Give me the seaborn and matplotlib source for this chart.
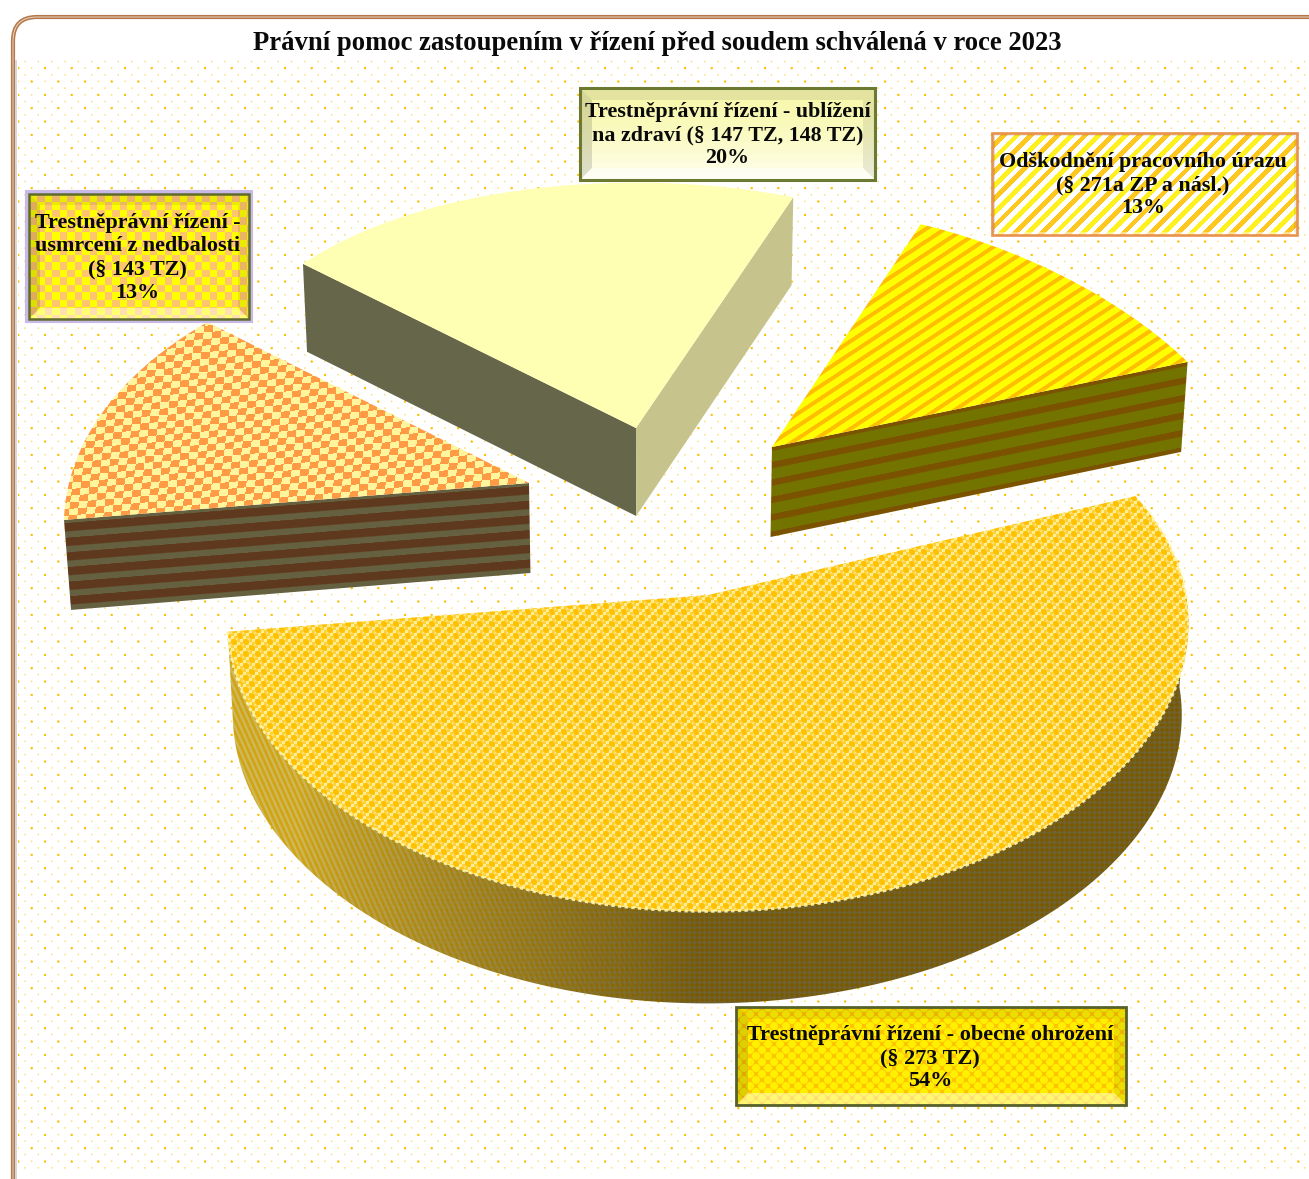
import numpy as np
import matplotlib
matplotlib.use("Agg")
import matplotlib.pyplot as plt
from matplotlib.patches import Polygon, Rectangle, FancyBboxPatch
import seaborn as sns

# ---- data
title = "Právní pomoc zastoupením v řízení před soudem schválená v roce 2023"
big_label = "Trestněprávní řízení - obecné ohrožení\n(§ 273 TZ)\n54%"
yellow_label = "Odškodnění pracovního úrazu\n(§ 271a ZP a násl.)\n13%"
cream_label = "Trestněprávní řízení - ublížení\nna zdraví (§ 147 TZ, 148 TZ)\n20%"
orange_label = "Trestněprávní řízení -\nusmrcení z nedbalosti\n(§ 143 TZ)\n13%"
categories = ["obecné ohrožení", "pracovní úraz", "ublížení na zdraví", "usmrcení z nedbalosti"]
shares = [54, 13, 20, 13]

sns.set_theme(style="white")
plt.rcParams["font.family"] = ["Liberation Serif", "DejaVu Serif"]

W, H = 1309, 1179
fig = plt.figure(figsize=(W / 100, H / 100), dpi=100, facecolor="white")
ax = fig.add_axes([0, 0, 1, 1])
ax.set_axis_off()

xx, yy = np.meshgrid(np.arange(W) + .5, np.arange(H) + .5)


def rgb(c):
    return np.array(matplotlib.colors.to_rgb(c))


def two(mask, a, b):
    """Blend colours a/b by mask (0..1) into an image."""
    m = np.clip(mask, 0, 1)[..., None]
    return rgb(a) * (1 - m) + rgb(b) * m


def stripes(u, period, duty):
    f = (u % period) / period
    edge = 1.2 / period
    return np.clip((duty - f) / edge + .5, 0, 1) * np.clip(f / edge + .5, 0, 1)


def checker(u, v):
    return (np.floor(u) + np.floor(v)) % 2


def dots(px, py, period, rad):
    a = (px % period) - period / 2
    b = (py % period) - period / 2
    a2 = ((px + period / 2) % period) - period / 2
    b2 = ((py + period / 2) % period) - period / 2
    d = np.minimum(np.hypot(a, b), np.hypot(a2, b2))
    return np.clip(rad + .5 - d, 0, 1)


def paint(img, verts, z):
    im = ax.imshow(img, extent=(0, W, H, 0), interpolation="nearest", zorder=z, aspect="auto")
    im.set_clip_path(Polygon(verts, closed=True, transform=ax.transData))
    return im


def poly(verts, color, z, **kw):
    ax.add_patch(Polygon(verts, closed=True, facecolor=color, edgecolor="none", zorder=z, **kw))


# ---- page frame and dotted background
frame = FancyBboxPatch((13, 17), W + 60, H + 60, boxstyle="round,pad=0,rounding_size=24",
                       facecolor="white", edgecolor="#B5784A", lw=3.0, zorder=1)
ax.add_patch(frame)
ax.add_patch(FancyBboxPatch((13, 17), W + 60, H + 60, boxstyle="round,pad=0,rounding_size=24",
                            facecolor="none", edgecolor="#EBD8C4", lw=.7, zorder=1.1))
ax.add_patch(Rectangle((14.5, 60), 2.5, H, facecolor="#D8D8D8", edgecolor="none", zorder=1.2))

strong = dots(xx - 5, yy - 1.5, 26.67, 1.1)
faint = dots(xx - 5 - 6.67, yy - 1.5 - 6.67, 13.33, .75)
rgba = np.zeros((H, W, 4))
rgba[..., :3] = rgb("#FFC000")
rgba[..., 3] = np.clip(strong + .6 * faint, 0, 1)
rgba[:60, :, 3] = 0
rgba[:, :18, 3] = 0
rgba[1174:, :, 3] = 0
ax.imshow(rgba, extent=(0, W, H, 0), interpolation="nearest", zorder=1.5, aspect="auto")

# ---- exploded 3-D pie: angles come from the shares
start_angle = 187.4
bounds = start_angle + np.cumsum([0] + [s * 3.6 for s in shares])


def rim(i, t, depth=0.0):
    """Screen position of the point at angle t (deg) of slice i."""
    ax0, ay0, R, r, p, q = geom[i]
    th = np.radians(t)
    c, s = np.cos(th), np.sin(th)
    x = ax0 + R * c * (1 - p * s)
    y = ay0 - r * s * (1 - q * s)
    return drop(x, y, depth)


def drop(x, y, depth):
    return x + (650 - x) * .012 * (depth / 90), y + depth


geom = [
    (708, 595, 478, 280, .10, .13),
    (772, 447, 474, 222.5, .15, -.081),
    (636, 428, 431, 282, 0, .13),
    (529, 483, 460, 281, .15, .155),
]
zorders = [30, 20, 10, 15]
depths = [92, 90, 88, 90]


def top_face(i):
    ts = np.linspace(bounds[i], bounds[i + 1], 200)
    ax0, ay0 = geom[i][:2]
    x, y = rim(i, ts)
    return np.vstack([[ax0, ay0], np.column_stack([x, y])])


def radial_face(i, t):
    ax0, ay0 = geom[i][:2]
    d = depths[i]
    ox, oy = rim(i, t)
    ox2, oy2 = rim(i, t, d)
    ax2, ay2 = drop(ax0, ay0, d)
    return [(ax0, ay0), (ox, oy), (ox2, oy2), (ax2, ay2)]


# slice 2: cream
z = zorders[2]
poly(radial_face(2, bounds[3]), "#66664A", z)
poly(radial_face(2, bounds[2]), "#C6C48C", z + .1)
poly(top_face(2), "#FFFFB3", z + .2)

# slice 3: orange checks with striped side
z = zorders[3]
u = (xx + .12 * yy) / 8.7
v = (yy + .085 * xx) / 6.6
paint(two(checker(u, v), "#FF9A45", "#FFF59C"), top_face(3), z + .2)
paint(two(stripes(yy + .08 * xx - 13.7, 14.7, .58), "#65603F", "#5F391E"), radial_face(3, bounds[4]), z)

# slice 1: yellow stripes with striped side
z = zorders[1]
paint(two(stripes(yy + .66 * xx, 12.5, .4), "#FFFF00", "#FFBE00"), top_face(1), z + .2)
paint(two(stripes(yy + .205 * xx - 11, 17.4, .38), "#737300", "#7A5200"), radial_face(1, bounds[1]), z)

# slice 0: large slice
z = zorders[0]
ts = np.linspace(bounds[0], 360, 300)
xt, yt = rim(0, ts)
xb, yb = rim(0, ts, depths[0])
side = np.vstack([np.column_stack([xt, yt]), np.column_stack([xb, yb])[::-1]])
weave = stripes(xx * 1.0 - yy * .45, 5.5, .5)
side_light = two(weave, "#D2A414", "#CDB85A")
side_dark = two(checker((xx + yy) / 5, (xx - yy) / 5), "#7A5A00", "#6F6130")
fade = np.clip((xx - 300) / 400, 0, 1)[..., None] ** .8
paint(side_light * (1 - fade) + side_dark * fade, side, z)
base = two(checker(xx / 3, yy / 3), "#FFD23C", "#FFEE96")
ball = dots(xx, yy, 12, 3.0)[..., None]
paint(base * (1 - ball) + rgb("#FFC000") * ball, top_face(0), z + .2)
ts = np.linspace(bounds[0], 360 + 20, 300)
xa, ya = rim(0, ts)
ax.plot(xa, ya, color="#FFF6A8", lw=2.0, alpha=.9, zorder=z + .3, solid_capstyle="butt",
        linestyle=(0, (1.2, 1.2)))


# ---- data labels
def bevel(x0, y0, x1, y1, b, light="#FFFFFF", dark="#000000", z=41, strength=1.0):
    poly([(x0, y0), (x1, y0), (x1 - b, y0 + b), (x0 + b, y0 + b)], dark, z, alpha=.08 * strength)
    poly([(x0, y0), (x0 + b, y0 + b), (x0 + b, y1 - b), (x0, y1)], dark, z, alpha=.13 * strength)
    poly([(x1, y0), (x1 - b, y0 + b), (x1 - b, y1 - b), (x1, y1)], dark, z, alpha=.08 * strength)
    poly([(x0, y1), (x0 + b, y1 - b), (x1 - b, y1 - b), (x1, y1)], light, z, alpha=.45)


def box(x0, y0, x1, y1, img, edge, lw, b, text, fs, dx=0, dy=0):
    rect = [(x0, y0), (x1, y0), (x1, y1), (x0, y1)]
    paint(img, rect, 40)
    bevel(x0, y0, x1, y1, b)
    ax.add_patch(Rectangle((x0, y0), x1 - x0, y1 - y0, facecolor="none", edgecolor=edge, lw=lw, zorder=42))
    ax.text((x0 + x1) / 2 + dx, (y0 + y1) / 2 + dy, text,
            ha="center", va="center", fontsize=fs, fontweight="bold", color="#0A0A0A",
            linespacing=1.22, zorder=50)


ax.add_patch(Rectangle((27, 192), 224, 129, facecolor="none", edgecolor="#C9B9E6", lw=3.0, zorder=39))
box(29, 194, 249, 319, two(checker(xx / 7.5, yy / 7.5), "#FFFF00", "#FFC56E"), "#5F6B2E", 1.8, 11,
    orange_label, 15.9, dx=-1.5, dy=1.5)

cream_fill = two(np.clip((yy - 95) / 85, 0, 1) ** 1.5, "#F8F8AE", "#FFFFF2")
box(580, 88, 875, 180, cream_fill, "#6B7A30", 2.2, 12, cream_label, 15.8, dx=0, dy=1)

k = np.floor((xx + yy) / 6.8)
yellow_fill = np.ones((H, W, 3))
yellow_fill[k % 4 == 1] = rgb("#FFF020")
yellow_fill[k % 4 == 3] = rgb("#FFC820")
box(992, 133, 1297, 235, yellow_fill, "#E8924E", 1.9, 3, yellow_label, 15.8, dx=-1.5, dy=1)

big_fill = two(dots(xx, yy, 12, 4.0), "#FFC400", "#FFF000")
box(736, 1007, 1126, 1105, big_fill, "#55602A", 2.0, 12, big_label, 16.0, dx=-1, dy=2)

ax.text(657.5, 43, title, ha="center", va="center", fontsize=19.15, fontweight="bold", color="#0A0A0A", zorder=50)

ax.set_xlim(0, W)
ax.set_ylim(H, 0)
fig.savefig("out.png", dpi=100, facecolor="white")
